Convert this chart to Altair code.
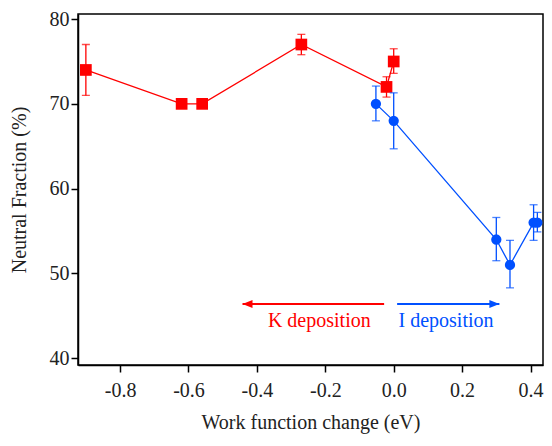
import altair as alt
import pandas as pd

# K deposition (red squares)
k_x = [-0.90, -0.62, -0.56, -0.27, -0.021, 0.0]
k_y = [74.0, 70.0, 70.0, 77.0, 72.0, 75.0]
k_lo = [71.0, 70.0, 70.0, 75.8, 70.8, 73.6]
k_hi = [77.0, 70.0, 70.0, 78.2, 73.2, 76.5]

# I deposition (blue circles)
i_x = [-0.052, 0.0, 0.30, 0.34, 0.409, 0.42]
i_y = [70.0, 68.0, 54.0, 51.0, 56.0, 56.0]
i_lo = [68.0, 64.7, 51.5, 48.3, 53.9, 54.9]
i_hi = [72.1, 71.3, 56.6, 53.9, 58.1, 57.2]

# annotation arrows (data units): start, tip, height
arrow_k = [-0.028, -0.442, 46.4]
arrow_i = [0.010, 0.309, 46.4]
label_k = ["K deposition", -0.2175, 44.4]
label_i = ["I deposition", 0.153, 44.4]

x_ticks = [-0.8, -0.6, -0.4, -0.2, 0.0, 0.2, 0.4]
y_ticks = [40, 50, 60, 70, 80]

RED = "#ff0000"
BLUE = "#0050ff"
FONT = "Liberation Serif, Times New Roman, DejaVu Serif, serif"

xs = alt.Scale(domain=[-0.923, 0.4365], nice=False, zero=False)
ys = alt.Scale(domain=[39.2, 80.6], nice=False, zero=False)

xax = alt.Axis(values=x_ticks, title="Work function change (eV)",
               labelExpr="datum.value < 0 ? '-' + format(-datum.value, '.1f') : format(datum.value, '.1f')",
               labelPadding=8, titlePadding=12, labelFlush=False)
yax = alt.Axis(values=y_ticks, format="d", title="Neutral Fraction (%)",
               labelPadding=2, titlePadding=20, labelFlush=False)


def series(xv, yv, lo, hi, color, shape, size):
    df = pd.DataFrame({"x": xv, "y": yv, "lo": lo, "hi": hi})
    caps = pd.concat([
        pd.DataFrame({"x": xv, "v": lo}),
        pd.DataFrame({"x": xv, "v": hi}),
    ])
    base = alt.Chart(df)
    rule = base.mark_rule(color=color, strokeWidth=1.3).encode(
        x=alt.X("x:Q", scale=xs, axis=xax),
        y=alt.Y("lo:Q", scale=ys, axis=yax),
        y2="hi:Q",
    )
    cap = alt.Chart(caps).mark_tick(color=color, orient="horizontal", size=8,
                                    thickness=1.3).encode(
        x=alt.X("x:Q", scale=xs),
        y=alt.Y("v:Q", scale=ys),
    )
    line = base.mark_line(color=color, strokeWidth=1.3).encode(
        x=alt.X("x:Q", scale=xs),
        y=alt.Y("y:Q", scale=ys),
        order="x:Q",
    )
    pts = base.mark_point(shape=shape, filled=True, size=size, color=color,
                          opacity=1).encode(
        x=alt.X("x:Q", scale=xs),
        y=alt.Y("y:Q", scale=ys),
    )
    return [rule, cap, line, pts]


def arrow(a, color, head):
    df = pd.DataFrame({"x1": [a[0]], "x2": [a[1]], "y": [a[2]]})
    r = alt.Chart(df).mark_rule(color=color, strokeWidth=2).encode(
        x=alt.X("x1:Q", scale=xs), x2="x2:Q", y=alt.Y("y:Q", scale=ys))
    h = alt.Chart(df).mark_point(shape=head, filled=True, size=100, color=color,
                                 opacity=1).encode(
        x=alt.X("x2:Q", scale=xs), y=alt.Y("y:Q", scale=ys))
    return [r, h]


def label(l, color):
    df = pd.DataFrame({"t": [l[0]], "x": [l[1]], "y": [l[2]]})
    return alt.Chart(df).mark_text(font=FONT, fontSize=20, color=color,
                                   align="center", baseline="middle").encode(
        x=alt.X("x:Q", scale=xs), y=alt.Y("y:Q", scale=ys), text="t:N")


layers = []
layers += series(k_x, k_y, k_lo, k_hi, RED, "square", 137)
layers += series(i_x, i_y, i_lo, i_hi, BLUE, "circle", 106)
layers += arrow(arrow_k, RED, "M0,0L2,-0.8L2,0.8Z")
layers += arrow(arrow_i, BLUE, "M0,0L-2,-0.8L-2,0.8Z")
layers += [label(label_k, RED), label(label_i, BLUE)]

chart = alt.layer(*layers).properties(
    width=465, height=351,
    autosize=alt.AutoSizeParams(type="none"),
    padding={"left": 70, "top": 6, "right": 1, "bottom": 73},
    background="white",
).configure_view(
    stroke="black", strokeWidth=1.5
).configure_axis(
    labelFont=FONT, titleFont=FONT, labelFontSize=20, titleFontSize=20,
    titleFontWeight="normal", labelColor="#222", titleColor="#222",
    domainColor="black", domainWidth=1.5, tickColor="black", tickWidth=1.5,
    tickSize=7, grid=False,
)

chart.save("out.html", embed_options={"renderer": "svg", "actions": False})
